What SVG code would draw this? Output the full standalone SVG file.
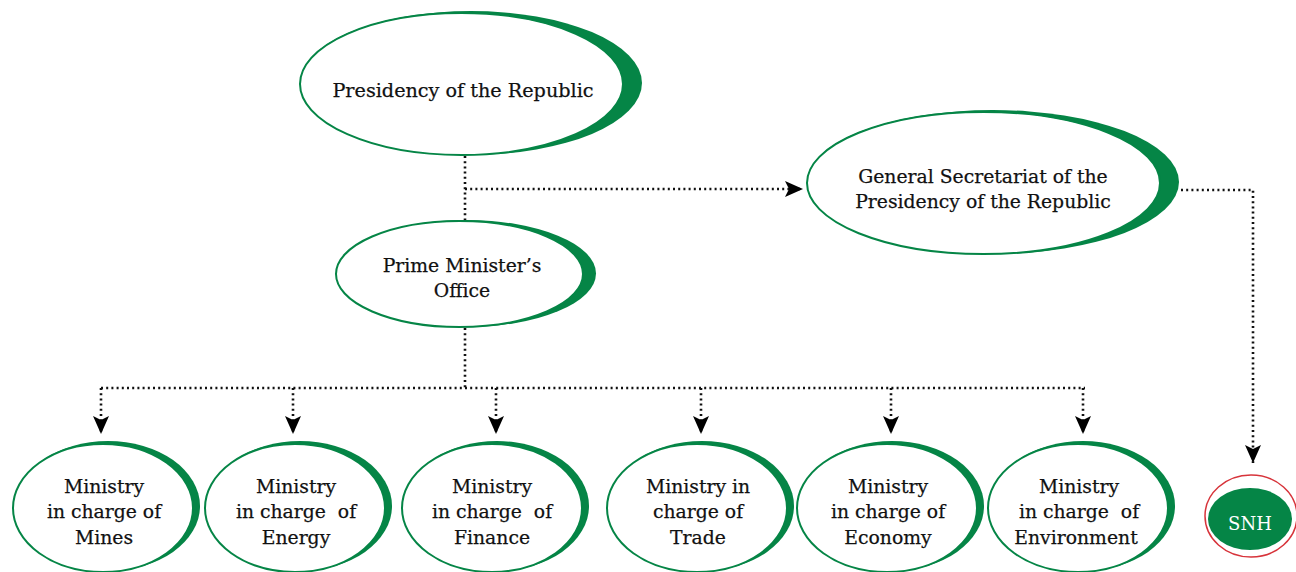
<svg xmlns="http://www.w3.org/2000/svg" width="1296" height="572" viewBox="0 0 1296 572">
<defs>
<style>
.bg{fill:#ffffff}
.cres{fill:#058546}
.inner{fill:#ffffff;stroke:#058546;stroke-width:2}
.lbl{font-family:"DejaVu Serif","Liberation Serif",serif;font-size:18.8px;fill:#111111;stroke:#111111;stroke-width:0.25;text-anchor:middle;white-space:pre}
.big{font-size:19.2px}
.conn{fill:none;stroke:#111111;stroke-width:2.6;stroke-dasharray:2 3.2}
.snhtxt{font-family:"DejaVu Serif","Liberation Serif",serif;font-size:18px;fill:#ffffff;text-anchor:middle}
</style>
<marker id="arr" markerUnits="userSpaceOnUse" markerWidth="20" markerHeight="18" refX="18" refY="8" orient="auto">
<path d="M0,0 L18,8 L0,16 L4,8 Z" fill="#000000"/>
</marker>
</defs>
<rect class="bg" x="0" y="0" width="1296" height="572"/>

<g id="connectors">
<path class="conn" d="M465,156 V220"/>
<path class="conn" d="M465,189 H803" marker-end="url(#arr)"/>
<path class="conn" d="M1181,190 H1253 V463" marker-end="url(#arr)"/>
<path class="conn" d="M465,328 V388"/>
<path class="conn" d="M101,388 H1085"/>
<path class="conn" d="M101,388 V434" marker-end="url(#arr)"/>
<path class="conn" d="M293,388 V434" marker-end="url(#arr)"/>
<path class="conn" d="M496,388 V434" marker-end="url(#arr)"/>
<path class="conn" d="M701,388 V434" marker-end="url(#arr)"/>
<path class="conn" d="M891,388 V434" marker-end="url(#arr)"/>
<path class="conn" d="M1083,388 V434" marker-end="url(#arr)"/>
</g>

<g id="presidency">
<ellipse class="cres" cx="471" cy="83" rx="171" ry="72"/>
<ellipse class="inner" cx="461.5" cy="84" rx="161.5" ry="71"/>
<text class="lbl big" x="463" y="97">Presidency of the Republic</text>
</g>

<g id="general-secretariat">
<ellipse class="cres" cx="993" cy="182" rx="186" ry="72"/>
<ellipse class="inner" cx="983.5" cy="183" rx="176.5" ry="71"/>
<text class="lbl" x="983" y="183">General Secretariat of the</text>
<text class="lbl" x="983" y="208">Presidency of the Republic</text>
</g>

<g id="prime-minister">
<ellipse class="cres" cx="466" cy="273.5" rx="130" ry="53.5"/>
<ellipse class="inner" cx="459.5" cy="274" rx="123.5" ry="53"/>
<text class="lbl" x="462" y="272">Prime Minister’s</text>
<text class="lbl" x="462" y="297">Office</text>
</g>

<g id="ministry-mines">
<ellipse class="cres" cx="108" cy="506" rx="92" ry="65"/>
<ellipse class="inner" cx="103" cy="508" rx="90" ry="64"/>
<text class="lbl" x="104" y="493">Ministry</text>
<text class="lbl" x="104" y="518">in charge of</text>
<text class="lbl" x="104" y="544">Mines</text>
</g>

<g id="ministry-energy">
<ellipse class="cres" cx="300" cy="506" rx="92" ry="65"/>
<ellipse class="inner" cx="295" cy="508" rx="90" ry="64"/>
<text class="lbl" x="296" y="493">Ministry</text>
<text class="lbl" x="296" y="518">in charge  of</text>
<text class="lbl" x="296" y="544">Energy</text>
</g>

<g id="ministry-finance">
<ellipse class="cres" cx="497" cy="506" rx="92" ry="65"/>
<ellipse class="inner" cx="492" cy="508" rx="90" ry="64"/>
<text class="lbl" x="492" y="493">Ministry</text>
<text class="lbl" x="492" y="518">in charge  of</text>
<text class="lbl" x="492" y="544">Finance</text>
</g>

<g id="ministry-trade">
<ellipse class="cres" cx="702" cy="506" rx="92" ry="65"/>
<ellipse class="inner" cx="697" cy="508" rx="90" ry="64"/>
<text class="lbl" x="698" y="493">Ministry in</text>
<text class="lbl" x="698" y="518">charge of</text>
<text class="lbl" x="698" y="544">Trade</text>
</g>

<g id="ministry-economy">
<ellipse class="cres" cx="892" cy="506" rx="92" ry="65"/>
<ellipse class="inner" cx="887" cy="508" rx="90" ry="64"/>
<text class="lbl" x="888" y="493">Ministry</text>
<text class="lbl" x="888" y="518">in charge of</text>
<text class="lbl" x="888" y="544">Economy</text>
</g>

<g id="ministry-environment">
<ellipse class="cres" cx="1083" cy="506" rx="92" ry="65"/>
<ellipse class="inner" cx="1078" cy="508" rx="90" ry="64"/>
<text class="lbl" x="1079" y="493">Ministry</text>
<text class="lbl" x="1079" y="518">in charge  of</text>
<text class="lbl" x="1076" y="544">Environment</text>
</g>

<g id="snh">
<ellipse cx="1251" cy="516" rx="46" ry="41" fill="none" stroke="#d7343b" stroke-width="1.5"/>
<ellipse cx="1250" cy="519" rx="42" ry="31" fill="#058546"/>
<text class="snhtxt" x="1250" y="530">SNH</text>
</g>
</svg>
